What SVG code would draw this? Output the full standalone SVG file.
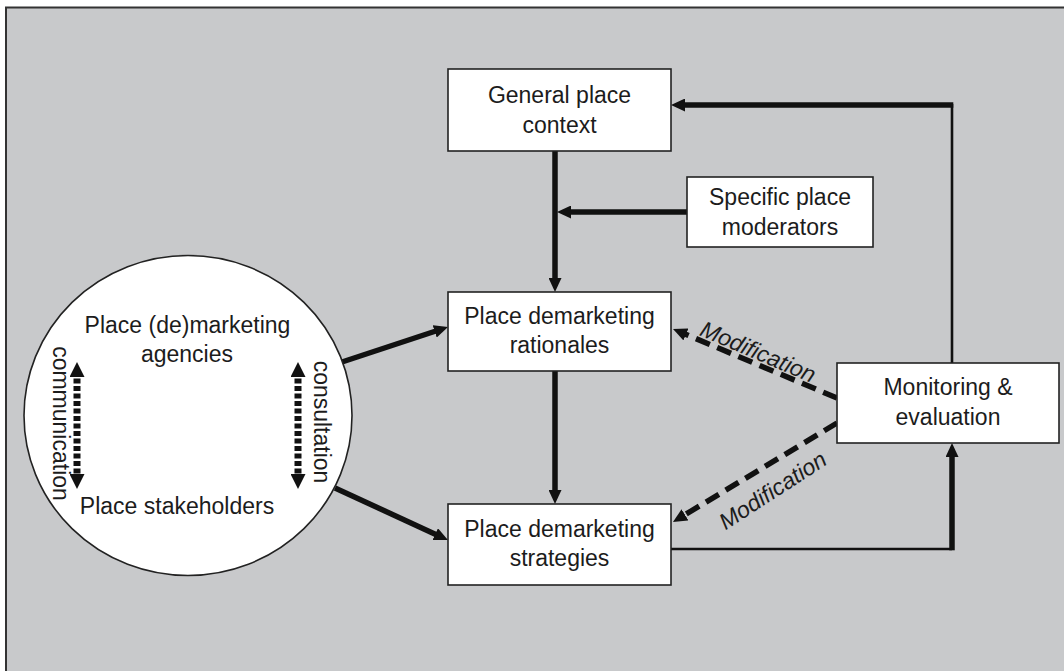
<svg xmlns="http://www.w3.org/2000/svg" width="1064" height="671" viewBox="0 0 1064 671">
  <style>
    .box { fill: #ffffff; stroke: #222222; stroke-width: 1.6; }
    .lbl { font-family: "Liberation Sans", Arial, sans-serif; font-size: 23px; fill: #1c1c1c; text-anchor: middle; }
    .it { font-style: italic; }
    .thick { fill: none; stroke: #111111; stroke-width: 5.5; }
    .thin { fill: none; stroke: #111111; stroke-width: 2.6; }
    .dash { fill: none; stroke: #111111; stroke-width: 5.5; stroke-dasharray: 15 8; }
    .dots { fill: none; stroke: #111111; stroke-width: 7; stroke-dasharray: 5 2.5; }
  </style>
  <defs>
    <marker id="ah" markerUnits="userSpaceOnUse" viewBox="0 0 14 13" refX="6" refY="6.5" markerWidth="14" markerHeight="13" orient="auto">
      <path d="M0,0 L14,6.5 L0,13 z" fill="#111111"/>
    </marker>
    <marker id="dh" markerUnits="userSpaceOnUse" viewBox="0 0 15 15" refX="6" refY="7.5" markerWidth="15" markerHeight="15" orient="auto-start-reverse">
      <path d="M0,0 L15,7.5 L0,15 z" fill="#111111"/>
    </marker>
  </defs>

  <!-- panel -->
  <rect x="6" y="7.5" width="1070" height="680" fill="#c8c9cb" stroke="#333333" stroke-width="2"/>

  <!-- connectors -->
  <g id="connectors">
    <path class="thick" d="M555,151 V284" marker-end="url(#ah)"/>
    <path class="thick" d="M687,212 H565" marker-end="url(#ah)"/>
    <path class="thin" d="M952,363 V104"/>
    <path class="thick" d="M953.3,105 H679" marker-end="url(#ah)"/>
    <path class="thick" d="M555,371 V496" marker-end="url(#ah)"/>
    <path class="thin" d="M671,549 H952"/>
    <path class="thick" d="M952,550.3 V451" marker-end="url(#ah)"/>
    <path class="thick" d="M342,362 L440.4,329.5" marker-end="url(#ah)"/>
    <path class="thick" d="M335,488 L440.7,536.7" marker-end="url(#ah)"/>
    <path class="dash" d="M837,398 L680.4,332.1" marker-end="url(#ah)"/>
    <path class="dash" d="M837,423 L679.8,517.9" marker-end="url(#ah)"/>
    <text class="lbl it" transform="translate(755,359) rotate(23)">Modification</text>
    <text class="lbl it" transform="translate(777,497) rotate(-33)">Modification</text>
  </g>

  <!-- place (de)marketing agencies and stakeholders -->
  <g id="actors">
    <ellipse cx="188" cy="415.5" rx="164" ry="160" fill="#ffffff" stroke="#222222" stroke-width="1.6"/>
    <text class="lbl" x="187.5" y="333">Place (de)marketing</text>
    <text class="lbl" x="187" y="362">agencies</text>
    <text class="lbl" x="177" y="514">Place stakeholders</text>
    <path class="dots" d="M77,371 V480" marker-start="url(#dh)" marker-end="url(#dh)"/>
    <path class="dots" d="M298,371 V480" marker-start="url(#dh)" marker-end="url(#dh)"/>
    <text class="lbl" transform="translate(53,423.5) rotate(90)">communication</text>
    <text class="lbl" transform="translate(314,422) rotate(90)">consultation</text>
  </g>

  <g id="general-context">
    <rect class="box" x="448" y="69" width="223" height="82"/>
    <text class="lbl" x="559.5" y="103">General place</text>
    <text class="lbl" x="559.5" y="133">context</text>
  </g>

  <g id="specific-moderators">
    <rect class="box" x="687" y="177" width="186" height="70"/>
    <text class="lbl" x="780" y="205">Specific place</text>
    <text class="lbl" x="780" y="235">moderators</text>
  </g>

  <g id="rationales">
    <rect class="box" x="448" y="292" width="223" height="79"/>
    <text class="lbl" x="559.5" y="324">Place demarketing</text>
    <text class="lbl" x="559.5" y="353">rationales</text>
  </g>

  <g id="strategies">
    <rect class="box" x="448" y="504" width="223" height="81"/>
    <text class="lbl" x="559.5" y="537">Place demarketing</text>
    <text class="lbl" x="559.5" y="566">strategies</text>
  </g>

  <g id="monitoring">
    <rect class="box" x="837" y="363" width="222" height="80"/>
    <text class="lbl" x="948" y="395">Monitoring &amp;</text>
    <text class="lbl" x="948" y="425">evaluation</text>
  </g>
</svg>
